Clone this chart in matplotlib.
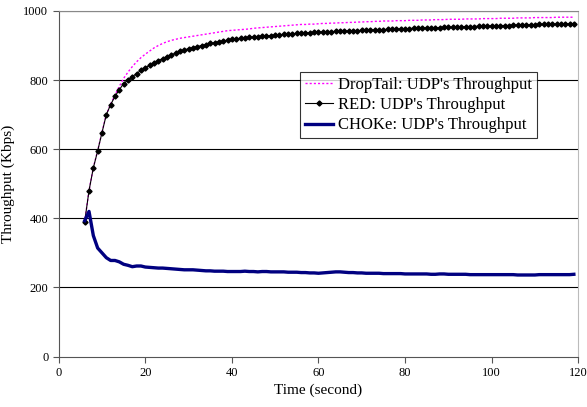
import matplotlib.pyplot as plt

plt.rcParams['font.family'] = ['Liberation Serif', 'DejaVu Serif']

# time in seconds, one sample per second
time = list(range(6, 120))

droptail = [
    390, 480, 547, 596, 649, 701, 731, 757, 782, 805,
    823, 839, 853, 865, 875, 884, 893, 900, 906, 911,
    915, 918, 921, 923, 925, 927, 929, 931, 933, 935,
    937, 939, 941, 943, 944, 945, 946, 947, 948, 950,
    951, 952, 953, 954, 955, 956, 957, 958, 959, 960,
    961, 961, 962, 962, 963, 964, 964, 965, 965, 966,
    966, 967, 967, 968, 968, 969, 969, 970, 970, 971,
    971, 971, 972, 972, 972, 973, 973, 973, 974, 974,
    974, 975, 975, 975, 976, 976, 976, 976, 977, 977,
    977, 977, 978, 978, 978, 978, 979, 979, 979, 979,
    980, 980, 980, 980, 981, 981, 981, 981, 981, 982,
    982, 982, 982, 982,
]

red = [
    390, 480, 546, 595, 648, 700, 729, 753, 772, 790,
    800, 810, 819, 828, 836, 843, 850, 856, 862, 868,
    873, 878, 883, 887, 891, 894, 897, 900, 903, 906,
    908, 911, 913, 915, 918, 919, 921, 922, 924, 925,
    926, 927, 928, 929, 930, 931, 932, 933, 934, 935,
    936, 937, 937, 938, 939, 939, 940, 940, 941, 941,
    942, 942, 943, 943, 944, 944, 945, 945, 946, 946,
    947, 947, 948, 948, 949, 949, 950, 950, 951, 951,
    951, 952, 952, 953, 953, 953, 954, 954, 955, 955,
    955, 956, 956, 956, 957, 957, 958, 958, 958, 959,
    959, 959, 960, 960, 960, 961, 961, 961, 962, 962,
    962, 963, 963, 963,
]

choke = [
    393, 420, 350, 314, 300, 286, 278, 278, 274, 267,
    264, 260, 262, 262, 259, 258, 257, 256, 256, 255,
    254, 253, 252, 251, 251, 251, 250, 249, 248, 248,
    247, 247, 247, 246, 246, 246, 246, 247, 246, 246,
    245, 246, 246, 245, 245, 245, 245, 244, 244, 244,
    243, 243, 242, 242, 241, 242, 243, 244, 245, 245,
    244, 243, 243, 242, 242, 241, 241, 241, 241, 240,
    240, 240, 240, 240, 239, 239, 239, 239, 239, 239,
    238, 238, 239, 239, 238, 238, 238, 238, 238, 237,
    237, 237, 237, 237, 237, 237, 237, 237, 237, 237,
    236, 236, 236, 236, 236, 237, 237, 237, 237, 237,
    237, 237, 237, 238,
]

fig = plt.figure(figsize=(5.87, 4.07), dpi=100)
ax = fig.add_axes([0.1, 0.124, 0.885, 0.849])

for y in range(200, 1001, 200):
    ax.axhline(y, color='black', lw=0.8, zorder=1)

ax.plot(time, droptail, color='#ff00ff', lw=1.0, ls=(0, (1.5, 1.5)),
        label="DropTail: UDP's Throughput", zorder=3)
ax.plot(time, red, color='black', lw=0.8, marker='D', ms=2.6,
        label="RED: UDP's Throughput", zorder=4)
ax.plot(time, choke, color='#000080', lw=2.4,
        label="CHOKe: UDP's Throughput", zorder=5)

ax.set_xlim(0, 120)
ax.set_ylim(0, 1000)
ax.set_xticks(range(0, 121, 20))
ax.set_yticks(range(0, 1001, 200))
ax.tick_params(labelsize=9, length=4, width=0.8, color='#555555')
ax.set_xlabel('Time (second)', fontsize=11, labelpad=3)
ax.set_ylabel('Throughput (Kbps)', fontsize=11, labelpad=6)

ax.spines['left'].set_color('#555555')
ax.spines['bottom'].set_color('#555555')
ax.spines['right'].set_color('#bbbbbb')
ax.spines['top'].set_color('#888888')

leg = ax.legend(loc='upper left', bbox_to_anchor=(0.464, 0.823), fontsize=12,
                frameon=True, fancybox=False, borderaxespad=0, borderpad=0.3,
                handlelength=1.7, handletextpad=0.3, labelspacing=0.25)
leg.get_frame().set_edgecolor('black')
leg.get_frame().set_linewidth(0.8)

fig.savefig('out.png', dpi=100)
